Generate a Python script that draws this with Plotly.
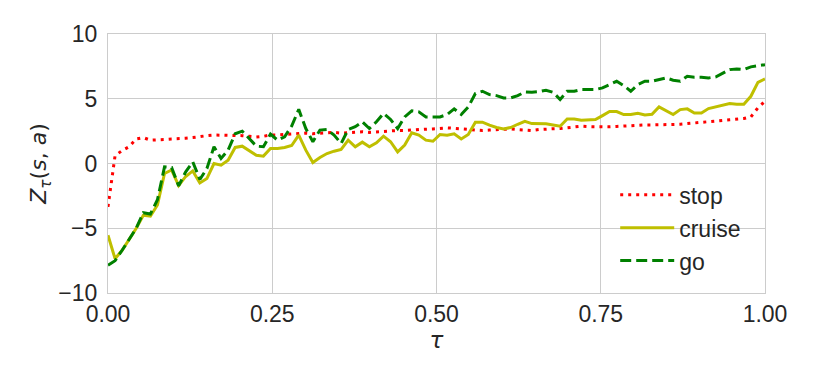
import numpy as np
import plotly.graph_objects as go

# valores (94 níveis de tau, de 0 a 1)
stop = [-3.35, 0.6, 1.0, 1.3, 1.9, 2.0, 1.8, 1.8, 1.85, 1.9,
        1.9, 1.95, 2.0, 2.1, 2.15, 2.2, 2.2, 2.2, 2.2, 2.15,
        2.1, 2.05, 2.1, 2.2, 2.2, 2.25, 2.3, 2.3, 2.35, 2.3,
        2.35, 2.4, 2.4, 2.35, 2.4, 2.45, 2.45, 2.4, 2.45, 2.5,
        2.5, 2.55, 2.55, 2.6, 2.6, 2.65, 2.67, 2.7, 2.75, 2.72,
        2.68, 2.65, 2.58, 2.55, 2.58, 2.62, 2.64, 2.67, 2.62, 2.56,
        2.55, 2.62, 2.67, 2.68, 2.7, 2.75, 2.85, 2.88, 2.85, 2.83,
        2.83, 2.83, 2.86, 2.9, 2.93, 2.95, 2.98, 2.98, 2.98, 2.99,
        3.0, 3.03, 3.08, 3.12, 3.17, 3.22, 3.27, 3.33, 3.38, 3.43,
        3.47, 3.6, 4.3, 4.8]

cruise = [-5.54, -7.35, -6.7, -5.9, -5.0, -4.0, -4.07, -3.2, -0.77, -0.5,
          -1.7, -1.0, -0.57, -1.5, -1.16, 0.0, -0.13, 0.26, 1.24, 1.34,
          0.98, 0.64, 0.57, 1.16, 1.16, 1.24, 1.39, 2.19, 1.03, 0.08,
          0.46, 0.77, 0.95, 1.08, 1.8, 1.29, 1.65, 1.29, 1.6, 2.11,
          1.68, 0.9, 1.42, 2.37, 2.19, 1.8,
          1.72, 2.24, 2.19, 2.29, 1.9, 2.24, 3.19, 3.19, 2.96, 2.78,
          2.67, 2.78, 3.03, 3.26, 3.08, 3.06, 3.06, 2.98, 2.88, 3.44,
          3.44, 3.34, 3.34, 3.39, 3.7, 4.01, 4.01, 3.78, 3.78, 3.88,
          3.75, 3.8, 4.37, 4.09, 3.78, 4.16, 4.22, 3.9, 3.9, 4.24,
          4.37, 4.47, 4.63, 4.58, 4.58, 5.19, 6.27, 6.53]

go_ = [-7.86, -7.5, -6.7, -5.9, -5.0, -3.8, -3.9, -2.8, -0.26, -0.3,
       -1.73, -0.64, 0.13, -1.24, -0.39, 1.29, 0.39, 1.03, 2.3, 2.5,
       1.93, 1.34, 1.29, 2.27, 1.8, 2.06, 2.89, 4.18, 2.7, 1.68,
       2.58, 2.63, 2.19, 1.55, 2.63, 2.84, 3.22, 2.7, 3.22, 3.87,
       3.4, 2.7, 3.6, 4.07, 3.99, 3.6,
       3.6, 3.6, 3.78, 4.22, 3.78, 4.37, 5.4, 5.58, 5.32, 5.24,
       5.06, 5.06, 5.24, 5.53, 5.5, 5.55, 5.66, 5.5, 4.94, 5.58,
       5.58, 5.71, 5.71, 5.71, 5.84, 6.09, 6.35, 6.02, 5.58, 6.09,
       6.35, 6.35, 6.48, 6.61, 6.43, 6.35, 6.74, 6.66, 6.66, 6.61,
       6.68, 6.99, 7.25, 7.3, 7.25, 7.46, 7.56, 7.63]

tau = np.linspace(0, 1, len(cruise))

xticks = [0, 0.25, 0.5, 0.75, 1.0]
yticks = [-10, -5, 0, 5, 10]

fig = go.Figure()
fig.add_trace(go.Scatter(x=tau, y=stop, name="stop", mode="lines",
                         line=dict(color="#ff0000", width=3, dash="3px,5px")))
fig.add_trace(go.Scatter(x=tau, y=cruise, name="cruise", mode="lines",
                         line=dict(color="#bfbf00", width=3)))
fig.add_trace(go.Scatter(x=tau, y=go_, name="go", mode="lines",
                         line=dict(color="#008000", width=3, dash="11px,5px")))

txt = "#262626"
grid = "#cccccc"
# a página tem 8px de margem no body, compensado nas margens
fig.update_layout(
    width=814, height=380,
    margin=dict(l=100, r=57, t=26, b=95),
    paper_bgcolor="white", plot_bgcolor="white",
    font=dict(family="Liberation Sans, Arial, sans-serif", size=23, color=txt),
    showlegend=True,
    legend=dict(x=0.772, y=0.462, xanchor="left", yanchor="top",
                bgcolor="rgba(0,0,0,0)", font=dict(size=23, color=txt),
                itemwidth=54, tracegroupgap=0),
)
fig.update_xaxes(
    range=[0, 1], tickvals=xticks, tickformat=".2f",
    showgrid=True, gridcolor=grid, gridwidth=1,
    showline=True, linecolor=grid, linewidth=1.25, mirror=True,
    zeroline=False, ticks="",
    title=dict(text="<i>τ</i>", font=dict(family="DejaVu Sans", size=23, color=txt), standoff=4),
)
fig.update_yaxes(
    range=[-10, 10], tickvals=yticks,
    showgrid=True, gridcolor=grid, gridwidth=1,
    showline=True, linecolor=grid, linewidth=1.25, mirror=True,
    zeroline=False, ticks="", ticklabelstandoff=5,
    title=dict(text="<i>Z</i><sub><i>τ</i></sub>(<i>s</i>, <i>a</i>)",
               font=dict(family="DejaVu Sans", size=22, color=txt), standoff=5),
)

fig.write_html("out.html")
